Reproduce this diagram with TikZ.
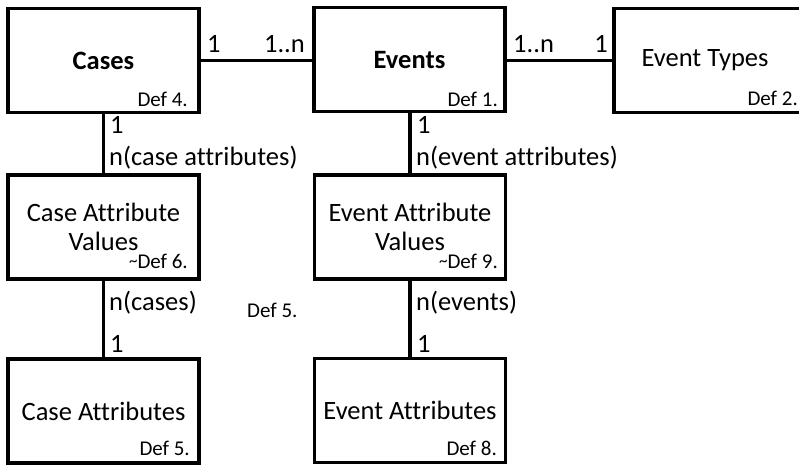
\documentclass[tikz,border=0pt]{standalone}
\usepackage{fontspec}
\setmainfont{Carlito}[Ligatures=NoCommon]
\begin{document}
\begin{tikzpicture}[x=1pt,y=-1pt,
  entity/.style={draw=black, line width=3.4pt, minimum width=191pt, minimum height=104pt,
    inner sep=0pt, align=center, font=\fontsize{26.5}{29.5}\selectfont},
  deflabel/.style={anchor=base east, inner sep=0pt, font=\fontsize{21}{24}\selectfont},
  mult/.style={anchor=base west, inner sep=0pt, font=\fontsize{26.5}{30}\selectfont},
  multr/.style={anchor=base east, inner sep=0pt, font=\fontsize{26.5}{30}\selectfont},
  link/.style={line width=3.4pt}]
  \useasboundingbox (0,0) rectangle (799,467);
  \clip (0,0) rectangle (799,467);

  % entity boxes
  \node[entity] (cases)  at (103.5,60.5) {\textbf{Cases}};
  \node[entity] (events) at (409.5,59.5) {\textbf{Events}};
  \node[entity] (etypes) at (709.5,60.5) {Event Types\hspace*{9pt}};
  \node[entity] (cav)    at (103.5,227)  {Case Attribute\\Values};
  \node[entity] (eav)    at (410,227)    {Event Attribute\\Values};
  \node[entity] (ca)     at (103.5,411)  {Case Attributes};
  \node[entity] (ea)     at (410,410.5)  {Event Attributes};

  % definition references
  \node[deflabel] (d4) at (188,106) {Def 4.};
  \node[deflabel] (d1) at (498,106) {Def 1.};
  \node[deflabel] (d2) at (798,105) {Def 2.};
  \node[deflabel] (d6) at (188,268) {\raisebox{2pt}{\fontsize{17}{17}\selectfont\textasciitilde}Def 6.};
  \node[deflabel] (d9) at (498,268) {\raisebox{2pt}{\fontsize{17}{17}\selectfont\textasciitilde}Def 9.};
  \node[deflabel] (d5) at (190,455) {Def 5.};
  \node[deflabel] (d8) at (497,455) {Def 8.};
  \node[deflabel, anchor=base west] (d5b) at (247,317) {Def 5.};

  % relationships
  \draw[link] (cases.east) -- (cases.east -| events.west);
  \draw[link] (events.east |- etypes.west) -- (etypes.west);
  \draw[link] (cases.south) -- (cav.north);
  \draw[link] (events.south -| eav.north) -- (eav.north);
  \draw[link] (cav.south) -- (ca.north);
  \draw[link] (eav.south) -- (ea.north);

  % multiplicities
  \node[mult]  (m1) at (207,52)  {1};
  \node[multr] (m2) at (305,52)  {1..n};
  \node[mult]  (m3) at (513,52)  {1..n};
  \node[multr] (m4) at (608,52)  {1};
  \node[mult]  (m5) at (110,133) {1};
  \node[mult]  (m6) at (109,165) {n(case attributes)};
  \node[mult]  (m7) at (417,133) {1};
  \node[mult]  (m8) at (416,165) {n(event attributes)};
  \node[mult]  (m9) at (109,310) {n(cases)};
  \node[mult]  (m10) at (110,352) {1};
  \node[mult]  (m11) at (416,310) {n(events)};
  \node[mult]  (m12) at (417,352) {1};
\end{tikzpicture}
\end{document}
